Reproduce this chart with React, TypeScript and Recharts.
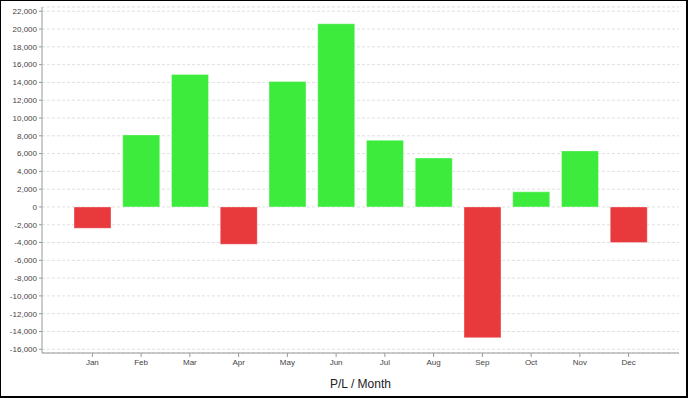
import React from "react";
import { BarChart, Bar, XAxis, YAxis, CartesianGrid, Cell, Label } from "recharts";

const months = ["Jan", "Feb", "Mar", "Apr", "May", "Jun", "Jul", "Aug", "Sep", "Oct", "Nov", "Dec"];
const profitLoss = [-2400, 8100, 14900, -4200, 14100, 20600, 7500, 5500, -14700, 1700, 6300, -4000];
const yTicks = [-16000, -14000, -12000, -10000, -8000, -6000, -4000, -2000, 0, 2000, 4000, 6000, 8000, 10000, 12000, 14000, 16000, 18000, 20000, 22000];
const yDomain = [-16420, 22480];

const GREEN = "#3deb3d";
const RED = "#e8393d";

const data = months.map((m, i) => ({ month: m, pl: profitLoss[i] }));

const fmt = (v: number) => v.toLocaleString("en-US");

export default function App() {
  return (
    <div style={{ position: "absolute", left: 0, top: 0, width: 688, height: 398, background: "#fff" }}>
      <div
        style={{
          position: "absolute",
          left: 0,
          top: 0,
          width: 688,
          height: 398,
          boxSizing: "border-box",
          borderTop: "1px solid #000",
          borderLeft: "1px solid #000",
          borderRight: "2px solid #000",
          borderBottom: "2px solid #000",
        }}
      />
      <div style={{ position: "absolute", left: 0, top: 0 }}>
        <BarChart
          width={688}
          height={398}
          data={data}
          margin={{ top: 7, right: 9, bottom: 0, left: 0 }}
          barSize={37}
          style={{ fontFamily: "'Liberation Sans', Arial, sans-serif" }}
        >
          <CartesianGrid vertical={false} stroke="#e0e0e0" strokeDasharray="3 2" />
          <XAxis
            xAxisId="top"
            orientation="top"
            dataKey="month"
            height={0}
            tick={false}
            tickLine={false}
            axisLine={{ stroke: "#c4c4c4" }}
          />
          <YAxis
            yAxisId="right"
            orientation="right"
            width={0}
            tick={false}
            tickLine={false}
            axisLine={{ stroke: "#c4c4c4" }}
            domain={yDomain}
          />
          <XAxis
            dataKey="month"
            height={45}
            padding={{ left: 26, right: 26 }}
            tickSize={4}
            tickMargin={2}
            interval={0}
            tick={{ fontSize: 8, fill: "#444" }}
            tickLine={{ stroke: "#999" }}
            axisLine={{ stroke: "#999" }}
          >
            <Label value="P/L / Month" position="insideBottom" offset={10} style={{ fontSize: 12, fill: "#222" }} />
          </XAxis>
          <YAxis
            width={42}
            domain={yDomain}
            ticks={yTicks}
            allowDataOverflow
            interval={0}
            tickFormatter={fmt}
            tickSize={3}
            tickMargin={2}
            tick={{ fontSize: 8, fill: "#444" }}
            tickLine={{ stroke: "#999" }}
            axisLine={{ stroke: "#999" }}
          />
          <Bar dataKey="pl" isAnimationActive={false} stroke="#ffffff" strokeOpacity={0.35} strokeWidth={1}>
            {data.map((d, i) => (
              <Cell key={i} fill={d.pl >= 0 ? GREEN : RED} />
            ))}
          </Bar>
        </BarChart>
      </div>
    </div>
  );
}
